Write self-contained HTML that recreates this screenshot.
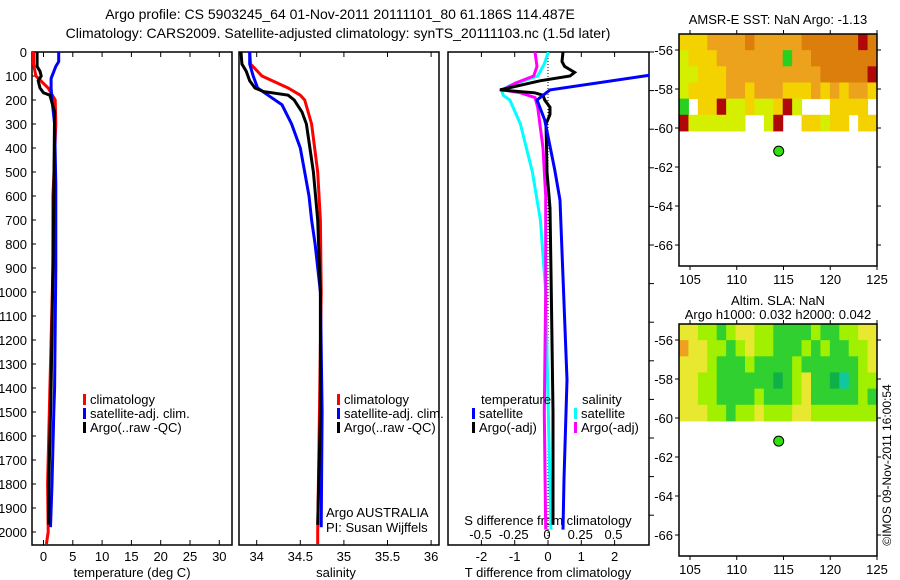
<!DOCTYPE html>
<html><head><meta charset="utf-8"><style>
body{margin:0;background:#fff;}
svg{display:block;font-family:"Liberation Sans",sans-serif;}
text{fill:#000;}
</style></head><body>
<svg id="c" width="900" height="580" xmlns="http://www.w3.org/2000/svg">
<text x="340" y="19" font-size="14" text-anchor="middle">Argo profile: CS 5903245_64 01-Nov-2011 20111101_80 61.186S 114.487E</text>
<text x="338" y="38" font-size="14" text-anchor="middle">Climatology: CARS2009. Satellite-adjusted climatology: synTS_20111103.nc (1.5d later)</text>
<g id="g"></g>
</svg>
<script>
// ---------- data ----------
const depthTicks=[0,100,200,300,400,500,600,700,800,900,1000,1100,1200,1300,1400,1500,1600,1700,1800,1900,2000];
const tempTicks=[0,5,10,15,20,25,30];
const salTicks=[34,34.5,35,35.5,36];
const dTTicks=[-2,-1,0,1,2];
const dSTicks=[-0.5,-0.25,0,0.25,0.5];
const dSTickLabels=["-0.5","-0.25","0","0.25","0.5"];

const tClimD=[0,50,100,150,180,200,300,500,600,900,1400,1800,2000,2050];
const tClimV=[-1.7,-1.7,-1.3,0.8,1.5,2.0,2.1,1.8,1.6,1.6,1.1,0.7,0.8,0.5];
const tSatD=[0,40,60,110,150,200,300,550,900,1400,1500,1800,1980];
const tSatV=[2.6,2.6,2.1,1.3,1.3,1.45,1.9,2.1,2.1,1.9,1.75,1.45,1.2];
const tArgoD=[0,60,80,100,120,150,170,180,250,500,900,1400,1800,1970];
const tArgoV=[-1.1,-1.1,-0.6,-0.4,-0.9,-0.6,0,1.1,1.9,1.8,1.6,1.3,0.9,0.9];

const sClimD=[0,50,100,150,180,200,300,500,700,1000,2000,2050];
const sClimV=[33.92,33.93,34.06,34.36,34.5,34.55,34.63,34.70,34.73,34.74,34.70,34.70];
const sSatD=[0,50,100,150,180,220,300,400,500,600,700,800,1000,1500,1980];
const sSatV=[33.92,33.92,33.96,34.01,34.13,34.29,34.40,34.50,34.55,34.60,34.63,34.67,34.73,34.75,34.74];
const sArgoD=[0,50,80,120,150,165,180,200,250,300,400,500,700,1000,1500,1970];
const sArgoV=[33.82,33.83,33.88,33.92,33.98,34.08,34.36,34.43,34.52,34.57,34.61,34.65,34.70,34.73,34.73,34.70];

const dTSatD=[0,90,96,158,200,283,490,617,1366,1780,1990];
const dTSatV=[4,4,3.1,0.06,-0.33,-0.1,0.2,0.36,0.57,0.48,0.45];
const dTArgoD=[0,40,60,85,100,120,158,170,180,200,230,260,300,500,650,1000,1500,1970];
const dTArgoV=[0.45,0.42,0.5,0.8,0.66,-0.24,-1.44,-0.4,-0.15,-0.1,0.06,0.06,-0.06,-0.03,0.06,0.1,0.15,0.15];
const dSSatD=[0,50,100,140,158,180,200,300,500,700,1000,1500,1990];
const dSSatV=[0.01,-0.02,-0.07,-0.28,-0.34,-0.33,-0.28,-0.2,-0.11,-0.05,-0.01,0.01,0.03];
const dSArgoD=[0,60,100,130,158,170,190,230,400,600,1000,1500,1990];
const dSArgoV=[-0.09,-0.075,-0.1,-0.24,-0.33,-0.2,-0.09,-0.07,-0.03,-0.01,-0.01,-0.02,-0.01];

const sstRows=["yyyooooOoooooOOOOOOrO","gyyyoooooooGooOOOOOOO","ggyyyooooooooooOOOOOr","gyyyyooyoooyyyoyoyooy","Gwyyrggyggyrgwwwyyyyw","rggggggwwgrwwyygyywyy"];
const slaRows=["yyggGgyyggGGGGgGGggyy","OyyggGgyggGGGgGgGGggy","yyygGGGgGGGGgGGGGGGgy","yyggGGGGGGDGgyGGDcGgg","yyggGGGGgGGGgyGGGGGgG","yyyggGggygggyyggggggg"];
const argoLon=114.487, argoLat=-61.186;

// ---------- helpers ----------
const NS="http://www.w3.org/2000/svg";
const G=document.getElementById('g');
function mk(t,a,p){const e=document.createElementNS(NS,t);for(const k in a)e.setAttribute(k,a[k]);(p||G).appendChild(e);return e;}
const yD=d=>52+0.24*d;
const P1={x0:32,x1:232}, P2={x0:239,x1:439}, P3={x0:448,x1:649};
const xT=v=>43.5+5.86*v, xS=v=>256.7+87.2*(v-34), xdT=v=>548+33.3*v, xdS=v=>547+133*v;

// clip paths
const defs=mk('defs',{});
[P1,P2,P3].forEach((p,i)=>{const c=mk('clipPath',{id:'cp'+i},defs);mk('rect',{x:p.x0,y:52,width:p.x1-p.x0,height:493},c);});

function panel(p,name){
  const r=mk('rect',{x:p.x0,y:52,width:p.x1-p.x0,height:493,fill:'none',stroke:'#000','stroke-width':1.5});
  
  
}
panel(P1,'temperature-panel');panel(P2,'salinity-panel');panel(P3,'difference-panel');

// depth axis
depthTicks.forEach(d=>{
  const t=mk('text',{x:27,y:yD(d)+5,'font-size':13,'text-anchor':'end'});t.textContent=d;
  
  
  mk('line',{x1:P1.x0,x2:P1.x0+4,y1:yD(d),y2:yD(d),stroke:'#000'});
  mk('line',{x1:P3.x1,x2:P3.x1+5,y1:yD(d)+0,y2:yD(d),stroke:'#000','stroke-opacity':0});
});
// right-side ticks of panel 3
for(let i=0;i<13;i++){const y=52+38.6*i;mk('line',{x1:P3.x1,x2:P3.x1+5,y1:y,y2:y,stroke:'#000'});}

function xticks(ticks,fx,p,yl,labels,name){
  ticks.forEach((v,i)=>{const x=fx(v);
    mk('line',{x1:x,x2:x,y1:52,y2:57,stroke:'#000'});
    mk('line',{x1:x,x2:x,y1:545,y2:540,stroke:'#000'});
    const t=mk('text',{x:x,y:yl,'font-size':13,'text-anchor':'middle'});t.textContent=labels?labels[i]:v;
    
    
  });
}
xticks(tempTicks,xT,P1,561,null,'temperature-tick-label');
xticks(salTicks,xS,P2,561,null,'salinity-tick-label');
xticks(dTTicks,xdT,P3,561,null,'t-diff-tick-label');
dSTicks.forEach((v,i)=>{const t=mk('text',{x:xdS(v),y:539,'font-size':13,'text-anchor':'middle'});t.textContent=dSTickLabels[i];
  
  });

function lbl(x,y,s,name,anchor){const t=mk('text',{x:x,y:y,'font-size':13,'text-anchor':anchor||'start'});t.textContent=s;
  
  return t;}
lbl(132,577,'temperature (deg C)','temperature-axis-title','middle');
lbl(336,577,'salinity','salinity-axis-title','middle');
lbl(548,577,'T difference from climatology','t-diff-axis-title','middle');
lbl(548,525,'S difference from climatology','s-diff-axis-title','middle');
lbl(326,517,'Argo AUSTRALIA','institution-label');
lbl(326,532,'PI: Susan Wijffels','pi-label');

// dotted zero line
mk('line',{x1:548,x2:548,y1:52,y2:545,stroke:'#000','stroke-dasharray':'1,2'});

function series(D,V,fx,col,ci,name){
  let d='';D.forEach((z,i)=>{d+=(i?'L':'M')+fx(V[i]).toFixed(1)+','+yD(z).toFixed(1);});
  const p=mk('path',{d:d,fill:'none',stroke:col,'stroke-width':3,'clip-path':'url(#cp'+ci+')'});
  
  
}
series(tClimD,tClimV,xT,'#f00',0,'temp-climatology-line');
series(tSatD,tSatV,xT,'#00f',0,'temp-satellite-line');
series(tArgoD,tArgoV,xT,'#000',0,'temp-argo-line');
series(sClimD,sClimV,xS,'#f00',1,'sal-climatology-line');
series(sSatD,sSatV,xS,'#00f',1,'sal-satellite-line');
series(sArgoD,sArgoV,xS,'#000',1,'sal-argo-line');
series(dSSatD,dSSatV,xdS,'#0ff',2,'s-diff-satellite-line');
series(dSArgoD,dSArgoV,xdS,'#f0f',2,'s-diff-argo-line');
series(dTArgoD,dTArgoV,xdT,'#000',2,'t-diff-argo-line');
series(dTSatD,dTSatV,xdT,'#00f',2,'t-diff-satellite-line');

function leg(x,y,col,s,name){mk('rect',{x:x,y:y-10,width:3,height:11,fill:col});const t=lbl(x+7,y,s,name);}
leg(83,404,'#f00','climatology','legend-climatology');
leg(83,418,'#00f','satellite-adj. clim.','legend-satellite');
leg(83,432,'#000','Argo(..raw -QC)','legend-argo');
leg(337,404,'#f00','climatology','legend2-climatology');
leg(337,418,'#00f','satellite-adj. clim.','legend2-satellite');
leg(337,432,'#000','Argo(..raw -QC)','legend2-argo');
lbl(481,404,'temperature','legend3-temperature-header');
leg(472,418,'#00f','satellite','legend3-t-satellite');
leg(472,432,'#000','Argo(-adj)','legend3-t-argo');
lbl(582,404,'salinity','legend3-salinity-header');
leg(574,418,'#0ff','satellite','legend3-s-satellite');
leg(574,432,'#f0f','Argo(-adj)','legend3-s-argo');

// ---------- maps ----------
const lonX=l=>690+9.35*(l-105);
function map(top,lat56,rows,cols,title1,title2,name){
  const latY=l=>lat56+19.5*(-56-l);
  const x0=679,x1=877,y1=top+232;
  const cellW=(x1-x0)/21, cellTop=top, cellBot=latY(-60.15), cellH=(cellBot-cellTop)/rows.length;
  rows.forEach((r,ri)=>{for(let ci=0;ci<21;ci++){const c=cols[r[ci]];if(!c)continue;
    const e=mk('rect',{x:x0+ci*cellW,y:cellTop+ri*cellH,width:cellW+0.5,height:cellH+0.5,fill:c});
    
    }});
  const b=mk('rect',{x:x0,y:top,width:x1-x0,height:y1-top,fill:'none',stroke:'#000','stroke-width':1.5});
  
  
  [-56,-58,-60,-62,-64,-66].forEach(l=>{const y=latY(l);
    mk('line',{x1:x0,x2:x0-4,y1:y,y2:y,stroke:'#000'});mk('line',{x1:x1,x2:x1+4,y1:y,y2:y,stroke:'#000'});
    const t=lbl(x0-6,y+5,String(l).replace('-','\u2212').replace('\u2212','-'),'lat-tick-label','end');});
  [105,110,115,120,125].forEach(l=>{const x=lonX(l);
    mk('line',{x1:x,x2:x,y1:y1,y2:y1+4,stroke:'#000'});mk('line',{x1:x,x2:x,y1:top,y2:top-4,stroke:'#000'});
    lbl(x,y1+18,l,'lon-tick-label','middle');});
  const dot=mk('circle',{cx:lonX(argoLon),cy:latY(argoLat),r:5,fill:'#30e010',stroke:'#000','stroke-width':1});
  
  
  lbl(778,title2?top-19:top-10,title1,'map-title','middle');
  if(title2)lbl(778,top-5,title2,'map-subtitle','middle');
}
map(34,50,sstRows,{o:'#eca21c',O:'#dc7e0c',y:'#f4d200',g:'#d4f000',G:'#28d020',r:'#b00808'},'AMSR-E SST: NaN Argo: -1.13',null,'sst-map');
map(324,340,slaRows,{y:'#e8e830',O:'#f0a020',g:'#a0f000',G:'#30d030',D:'#10b048',c:'#10c8a0'},'Altim. SLA: NaN','Argo h1000: 0.032 h2000: 0.042','sla-map');
const cr=lbl(0,0,'\u00a9IMOS 09-Nov-2011 16:00:54','copyright-label','middle');
cr.setAttribute('transform','translate(891,465) rotate(-90)');
cr.setAttribute('font-size','12');
</script>
</body></html>
